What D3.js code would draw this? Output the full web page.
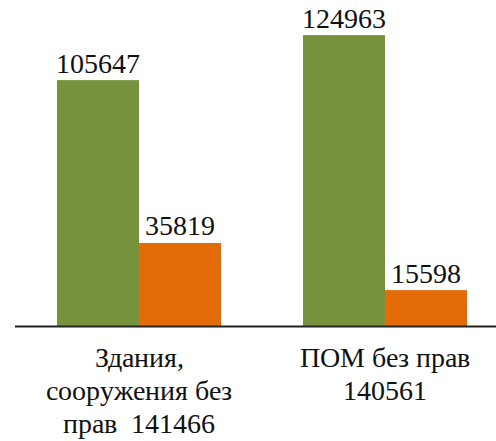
<!DOCTYPE html>
<html>
<head>
<meta charset="utf-8">
<script src="https://cdn.jsdelivr.net/npm/d3@7"></script>
<style>
  @font-face {
    font-family: "ChartSerif";
    src: local("Liberation Serif"), local("LiberationSerif"), local("Times New Roman");
  }
  html, body { margin: 0; padding: 0; background: #ffffff; }
  #chart { position: relative; width: 496px; height: 441px; }
  svg { display: block; position: absolute; left: 0; top: 0; }
  .lbl {
    position: absolute;
    font-family: "ChartSerif", "Liberation Serif", "Times New Roman", serif;
    font-size: 28px;
    line-height: 33px;
    color: #111;
    white-space: pre;
    text-align: center;
    transform: translateX(-50%);
  }
</style>
</head>
<body>
<div id="chart"></div>
<script>
// categories (each label split in lines) and the two series
var categories = ["g1", "g2"];
var categoryLines = [
  ["Здания,", "сооружения без", "прав  141466"],
  ["ПОМ без прав", "140561"]
];
var seriesNames = ["green", "orange"];
var greenValues = [105647, 124963];
var orangeValues = [35819, 15598];

var width = 496, height = 441;
var baseY = 326.5;
var colors = { green: "#77923c", orange: "#e36c09" };
// distance from a label box top to its text baseline (28px font, 33px line)
var baseOff = 26.5;

var chart = d3.select("#chart");
var svg = chart.append("svg")
    .attr("width", width)
    .attr("height", height);

var x0 = d3.scaleBand()
    .domain(categories)
    .range([16, 508])
    .paddingInner(1 / 3)
    .paddingOuter(1 / 6);

var x1 = d3.scaleBand()
    .domain(seriesNames)
    .range([0, x0.bandwidth()]);

var y = d3.scaleLinear()
    .domain([0, 140000])
    .range([baseY, 0]);

var bars = [];
categories.forEach(function(c, i) {
  bars.push({ cat: c, key: "green", value: greenValues[i] });
  bars.push({ cat: c, key: "orange", value: orangeValues[i] });
});

svg.selectAll("rect")
  .data(bars)
  .enter().append("rect")
    .attr("x", function(d) { return x0(d.cat) + x1(d.key); })
    .attr("y", function(d) { return y(d.value); })
    .attr("width", x1.bandwidth())
    .attr("height", function(d) { return baseY - y(d.value); })
    .attr("fill", function(d) { return colors[d.key]; });

// baseline
svg.append("line")
    .attr("x1", 15).attr("x2", width)
    .attr("y1", baseY).attr("y2", baseY)
    .attr("stroke", "#222")
    .attr("stroke-width", 2);

// value labels
chart.selectAll(".val")
  .data(bars)
  .enter().append("div")
    .attr("class", "lbl val")
    .style("left", function(d) { return (x0(d.cat) + x1(d.key) + x1.bandwidth() / 2) + "px"; })
    .style("top", function(d) { return (y(d.value) - 7 - baseOff) + "px"; })
    .text(function(d) { return d.value; });

// category labels
chart.selectAll(".cat")
  .data(categories)
  .enter().append("div")
    .attr("class", "lbl cat")
    .style("left", function(d) { return (x0(d) + x0.bandwidth() / 2) + "px"; })
    .style("top", (367 - baseOff) + "px")
    .text(function(d, i) { return categoryLines[i].join("\n"); });
</script>
</body>
</html>
